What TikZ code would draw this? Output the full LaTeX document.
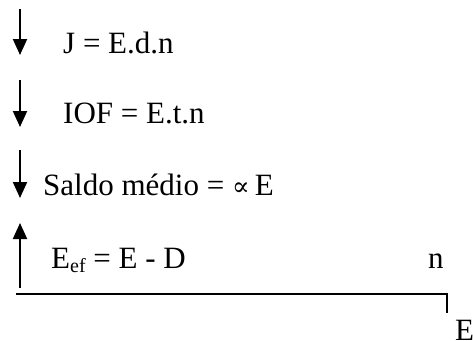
\documentclass[tikz,border=0pt]{standalone}
\usepackage{fontspec}
\setmainfont{Liberation Serif}
\newfontfamily\propf{DejaVu Serif}
\usetikzlibrary{arrows.meta}
\tikzset{
  lbl/.style={anchor=base west, inner sep=0pt, font=\fontsize{31}{37}\selectfont},
  arr/.style={line width=2pt, -{Triangle[width=14pt,length=16pt]}},
  axis/.style={line width=2pt}
}
\begin{document}
\begin{tikzpicture}[x=1pt,y=-1pt]
\useasboundingbox (0,0) rectangle (473,340);
% arrows
\coordinate (a1s) at (20,9);   \coordinate (a1e) at (20,55);
\coordinate (a2s) at (20,80);  \coordinate (a2e) at (20,127);
\coordinate (a3s) at (20,150); \coordinate (a3e) at (20,198);
\coordinate (a4s) at (20,288); \coordinate (a4e) at (20,223);
\draw[arr] (a1s) -- (a1e);
\draw[arr] (a2s) -- (a2e);
\draw[arr] (a3s) -- (a3e);
\draw[arr] (a4s) -- (a4e);
% axis
\coordinate (o) at (16,294);
\coordinate (r) at (447,294);
\coordinate (rd) at (447,313);
\draw[axis] (o) -- (r) -- (rd);
% labels
\node[lbl] (j) at (63,53) {J = E.d.n};
\node[lbl] (iof) at (63,123) {IOF = E.t.n};
\node[lbl] (sm) at (43,195) {Saldo médio = {\propf\fontsize{26}{30}\selectfont ∝}\,E};
\node[lbl] (ef) at (51,268) {E\raisebox{-4pt}{\fontsize{20}{24}\selectfont ef} = E - D};
\node[lbl] (n) at (428,268) {n};
\node[lbl] (e) at (455,340) {E};
\end{tikzpicture}
\end{document}
